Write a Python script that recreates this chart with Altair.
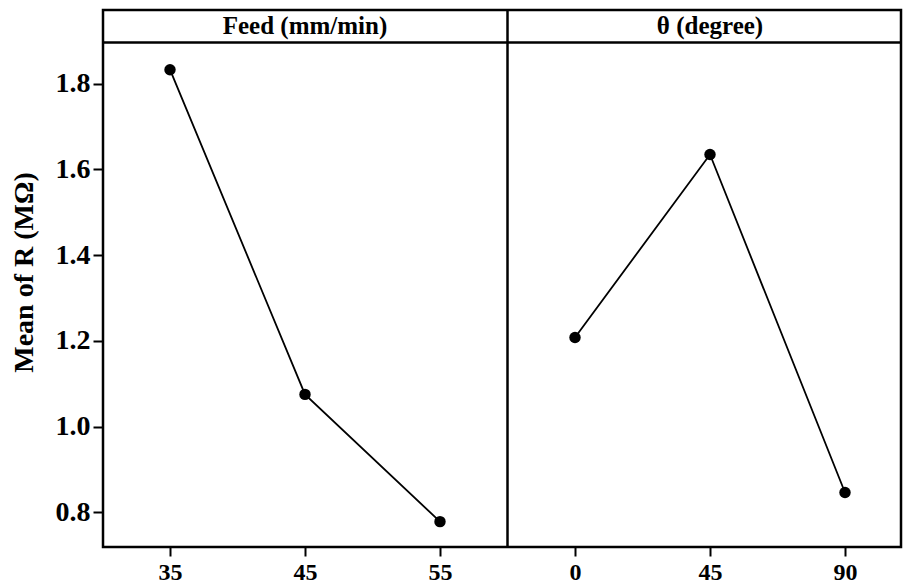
import altair as alt
import pandas as pd

# ---- data ----
feed_levels = ["35", "45", "55"]
feed_means = [1.833, 1.075, 0.778]
theta_levels = ["0", "45", "90"]
theta_means = [1.208, 1.635, 0.846]
panel_titles = ["Feed (mm/min)", "θ (degree)"]
y_ticks = [0.8, 1.0, 1.2, 1.4, 1.6, 1.8]
y_title = "Mean of R (MΩ)"

FONT = "Liberation Serif"

# combined long table: one slot per level, panels side by side
all_levels = feed_levels + theta_levels
df = pd.DataFrame({
    "factor": [panel_titles[0]] * len(feed_levels) + [panel_titles[1]] * len(theta_levels),
    "slot": list(range(len(all_levels))),
    "label": all_levels,
    "mean": feed_means + theta_means,
})

# layout constants (scale domains chosen to match the reference framing)
W, H = 798, 537
X_DOMAIN = [-0.4963, -0.4963 + W / 135]
Y_DOMAIN = [0.7188, 0.7188 + H / 428.4]
HEADER_LINE = 1.8964      # bottom of the header strip
HEADER_TEXT = 1.934       # centre of header strip
DIVIDER = len(feed_levels) - 0.5

label_expr = "[" + ",".join("'%s'" % l for l in all_levels) + "][datum.value]"

x_enc = alt.X("slot:Q",
              scale=alt.Scale(domain=X_DOMAIN, nice=False, zero=False),
              axis=alt.Axis(values=list(range(len(all_levels))), labelExpr=label_expr,
                            title=None, grid=False, domain=False,
                            tickSize=9, tickWidth=2, tickColor="black",
                            labelFont=FONT, labelFontSize=24, labelFontWeight="bold",
                            labelColor="black", labelPadding=4))
y_enc = alt.Y("mean:Q",
              scale=alt.Scale(domain=Y_DOMAIN, nice=False, zero=False),
              axis=alt.Axis(values=y_ticks, format=".1f", title=y_title, grid=False,
                            domain=False, tickSize=10, tickWidth=2, tickColor="black",
                            labelFont=FONT, labelFontSize=28, labelFontWeight="bold",
                            labelColor="black", labelPadding=3,
                            titleFont=FONT, titleFontSize=28, titleFontWeight="bold",
                            titleColor="black", titlePadding=17, titleY=262))

base = alt.Chart(df).encode(x=x_enc, y=y_enc, detail="factor:N")
lines = base.mark_line(color="black", strokeWidth=1.8)
points = base.mark_point(filled=True, color="black", opacity=1, size=130)

header_df = pd.DataFrame({"slot": [1, len(feed_levels) + 1],
                          "mean": [HEADER_TEXT, HEADER_TEXT],
                          "title": panel_titles})
headers = alt.Chart(header_df).mark_text(
    font=FONT, fontSize=25, fontWeight="bold", color="black",
    baseline="middle", align="center"
).encode(x=x_enc, y=y_enc, text="title:N")

hline = alt.Chart(pd.DataFrame({"mean": [HEADER_LINE]})).mark_rule(
    color="black", strokeWidth=2.5).encode(y=y_enc)
vline = alt.Chart(pd.DataFrame({"slot": [DIVIDER]})).mark_rule(
    color="black", strokeWidth=2.5).encode(x=x_enc)

chart = alt.layer(lines, points, headers, hline, vline).properties(
    width=W, height=H,
    padding={"left": 2, "top": 0, "right": 1, "bottom": 0},
    background="white",
).configure_view(
    stroke="black", strokeWidth=2.5, fill="white"
)

chart.save("out.html", embed_options={"renderer": "svg", "actions": False})
